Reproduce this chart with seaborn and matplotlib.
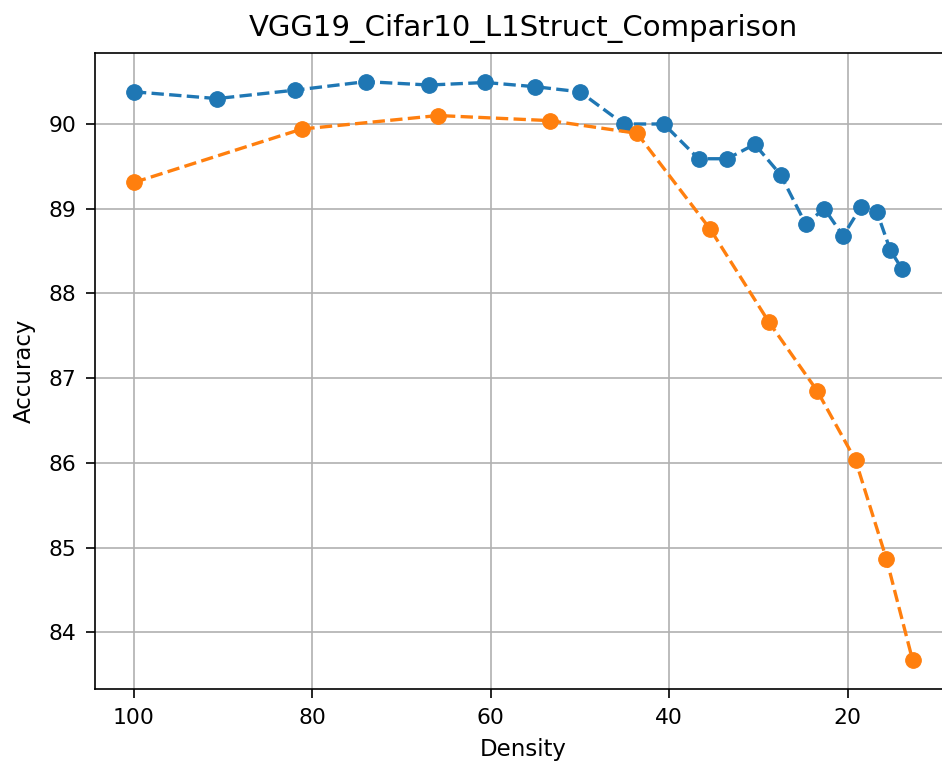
import matplotlib
matplotlib.use("Agg")
import matplotlib.pyplot as plt
import seaborn as sns
import pandas as pd

# Accuracy vs. remaining weight density for two pruning runs
density_a = [100, 90.7, 81.9, 74.0, 66.9, 60.6, 55.0, 50.0, 45.1, 40.6, 36.7,
             33.5, 30.4, 27.5, 24.7, 22.6, 20.5, 18.5, 16.7, 15.2, 13.9]
accuracy_a = [90.38, 90.30, 90.40, 90.50, 90.46, 90.49, 90.44, 90.38, 90.00, 90.00, 89.59,
              89.59, 89.76, 89.40, 88.82, 89.00, 88.68, 89.02, 88.96, 88.51, 88.29]

density_b = [100, 81.2, 65.9, 53.4, 43.6, 35.4, 28.8, 23.4, 19.1, 15.65, 12.7]
accuracy_b = [89.31, 89.94, 90.10, 90.04, 89.89, 88.76, 87.66, 86.85, 86.03, 84.87, 83.67]

title = "VGG19_Cifar10_L1Struct_Comparison"
xlabel = "Density"
ylabel = "Accuracy"

df_a = pd.DataFrame({"Density": density_a, "Accuracy": accuracy_a})
df_b = pd.DataFrame({"Density": density_b, "Accuracy": accuracy_b})

W, H, DPI = 942, 762, 150
fig = plt.figure(figsize=(W / DPI, H / DPI), dpi=DPI)
left, right, top, bottom = 95, 951.6, 52.7, 689.3
ax = fig.add_axes([left / W, 1 - bottom / H, (right - left) / W, (bottom - top) / H])

for df, color in ((df_a, "#1f77b4"), (df_b, "#ff7f0e")):
    sns.lineplot(data=df, x="Density", y="Accuracy", ax=ax, color=color,
                 linestyle="--", linewidth=1.6, marker="o", markersize=7.5,
                 markeredgecolor=color, markeredgewidth=0.5, sort=False)

ax.invert_xaxis()
ax.set_xticks([100, 80, 60, 40, 20])
ax.set_yticks([84, 85, 86, 87, 88, 89, 90])
ax.grid(True, color="#b0b0b0", linewidth=0.8)
ax.set_axisbelow(True)
ax.set_title(title, fontsize=14, pad=8)
ax.set_xlabel(xlabel, fontsize=11, labelpad=5)
ax.set_ylabel(ylabel, fontsize=11, labelpad=6)
ax.tick_params(labelsize=10.5, length=4.5, pad=4.5)

fig.savefig("out.png", dpi=DPI)
